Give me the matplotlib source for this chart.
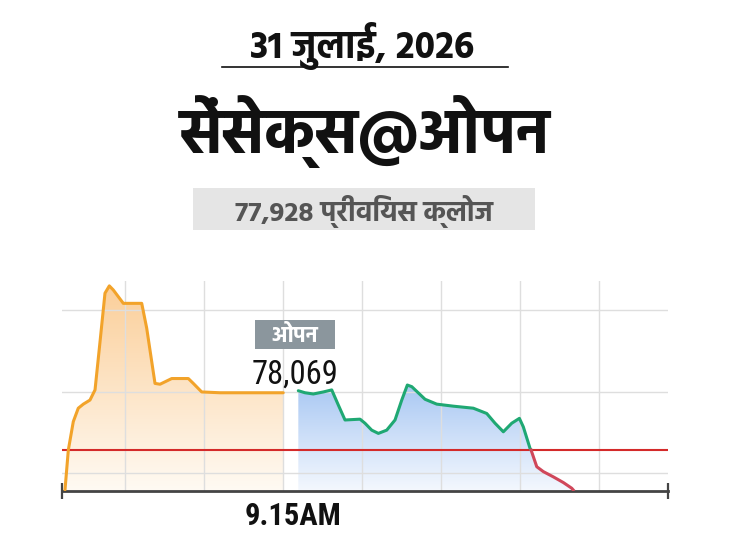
import numpy as np
import matplotlib
matplotlib.use("Agg")
import matplotlib.pyplot as plt
from matplotlib import font_manager
from matplotlib.colors import LinearSegmentedColormap
from matplotlib.patches import Rectangle

# ---- data ----
prev_close = 77928
open_value = 78069
date_text = "31 जुलाई, 2026"
title_text = "सेंसेक्स@ओपन"
close_text = "77,928 प्रीवियस क्लोज"
open_tag = "ओपन"
open_value_text = "78,069"
open_time = "9.15AM"

# pre-open session (orange)
pre_x = [0.38, 0.80, 1.43, 2.06, 2.70, 3.54, 4.18, 4.81, 5.44, 5.99, 6.49, 7.76, 10.09,
         10.72, 11.77, 12.41, 13.89, 15.99, 16.62, 17.68, 20.0, 28.0]
pre_y = [77830, 77928, 77998, 78031, 78041, 78051, 78076, 78194, 78314, 78332, 78322,
         78289, 78289, 78228, 78092, 78090, 78104, 78104, 78092, 78071, 78069, 78069]

# market session after open
mkt_x = [29.91, 30.76, 31.81, 33.08, 34.14, 34.97, 35.82, 37.72, 38.35, 39.20, 40.04,
         41.10, 42.15, 43.00, 43.71, 44.27, 45.95, 47.43, 49.53, 52.06, 53.76, 54.81,
         55.86, 56.92, 57.89, 58.39, 59.24, 59.37, 60.09, 60.92, 62.19, 63.46, 64.52, 64.7]
mkt_y = [78074, 78069, 78066, 78071, 78076, 78039, 78002, 78004, 77994, 77977, 77969,
         77977, 78002, 78051, 78088, 78084, 78053, 78041, 78036, 78031, 78018, 77994,
         77973, 77994, 78006, 77985, 77932, 77928, 77887, 77875, 77862, 77848, 77834, 77830]

grid_x = [8, 18, 28, 38, 48, 58, 68]
grid_y = [77871, 78071, 78272]
x_max = 76.7
y_min, y_max = 77828, 78344

names = {f.name for f in font_manager.fontManager.ttflist}
hind = "Hind" if "Hind" in names else "DejaVu Sans"
narrow = hind
for cand in ["Roboto Condensed", "Oswald", "Archivo Narrow", "Liberation Sans Narrow",
             "PT Sans Narrow", "Fjalla One"]:
    if cand in names:
        narrow = cand
        break

W, H = 730, 548
fig = plt.figure(figsize=(W / 100, H / 100), dpi=100)


def fx(x):
    return x / W


def fy(y):
    return 1 - y / H


# ---- header ----
fig.text(fx(362), fy(46), date_text, ha="center", va="center", fontsize=27,
         fontweight="bold", color="#111111", family=[hind, "DejaVu Sans"])
fig.add_artist(plt.Line2D([fx(222), fx(508)], [fy(67), fy(67)], color="#111111", lw=1.2))
fig.text(fx(365), fy(131), title_text, ha="center", va="center", fontsize=45,
         fontweight="bold", color="#111111", family=[hind, "DejaVu Sans"])
fig.add_artist(Rectangle((fx(193), fy(230)), fx(535 - 193), (230 - 188) / H,
                         transform=fig.transFigure, color="#e5e5e5", lw=0))
fig.text(fx(364), fy(211), close_text, ha="center", va="center", fontsize=20,
         fontweight="bold", color="#555555", family=[hind, "DejaVu Sans"])

# ---- chart ----
ax = fig.add_axes([fx(62), fy(490.7), fx(668 - 62), (490.7 - 281) / H])
ax.set_xlim(0, x_max)
ax.set_ylim(y_min, y_max)
ax.set_axisbelow("line")


def gradient_fill(xs, ys, top_color, bottom_color, top):
    poly = ax.fill_between(xs, ys, y_min, facecolor="none", edgecolor="none")
    cmap = LinearSegmentedColormap.from_list("g", [bottom_color, top_color])
    grad = np.linspace(0, 1, 256).reshape(-1, 1)
    im = ax.imshow(grad, extent=[min(xs), max(xs), y_min, top], origin="lower",
                   aspect="auto", cmap=cmap, zorder=1)
    im.set_clip_path(poly.get_paths()[0], transform=ax.transData)


gradient_fill(pre_x, pre_y, "#fbcf9a", "#fffaf3", max(pre_y))
gradient_fill(mkt_x, mkt_y, "#a9c8f3", "#f4f8fe", max(mkt_y))

ax.axhline(prev_close, color="#d42a2a", lw=1.5, zorder=2)

ax.plot(pre_x, pre_y, color="#f2a32a", lw=2.2, zorder=3, solid_joinstyle="round",
        solid_capstyle="round")
cross = mkt_y.index(prev_close)
ax.plot(mkt_x[:cross + 1], mkt_y[:cross + 1], color="#1fa873", lw=2.2, zorder=3,
        solid_joinstyle="round", solid_capstyle="round")
ax.plot(mkt_x[cross:], mkt_y[cross:], color="#d0475a", lw=2.2, zorder=3,
        solid_joinstyle="round")

for s in ["top", "left", "right"]:
    ax.spines[s].set_visible(False)
ax.spines["bottom"].set_color("#444444")
ax.spines["bottom"].set_linewidth(2)
ax.set_xticks([0, x_max])
ax.set_xticklabels([])
ax.tick_params(axis="x", which="major", direction="inout", length=11, width=1.6,
               color="#444444")
ax.set_xticks(grid_x, minor=True)
ax.tick_params(axis="x", which="minor", length=0)
ax.set_yticks(grid_y)
ax.tick_params(axis="y", length=0, labelleft=False)
ax.xaxis.grid(False, which="major")
ax.xaxis.grid(True, which="minor", color="#dedede", lw=1)
ax.yaxis.grid(True, color="#dedede", lw=1)

# open annotation
fig.add_artist(Rectangle((fx(255), fy(349)), fx(335 - 255), (349 - 320) / H,
                         transform=fig.transFigure, color="#8b969d", lw=0))
fig.text(fx(295), fy(335), open_tag, ha="center", va="center", fontsize=16,
         fontweight="bold", color="white", family=[hind, "DejaVu Sans"])
fig.text(fx(295), fy(375), open_value_text, ha="center", va="center", fontsize=23.5,
         color="#111111", family=[narrow, "DejaVu Sans"])
fig.text(fx(293), fy(516), open_time, ha="center", va="center", fontsize=22,
         fontweight="bold", color="#111111", family=[narrow, "DejaVu Sans"])

fig.savefig("out.png", dpi=100)
